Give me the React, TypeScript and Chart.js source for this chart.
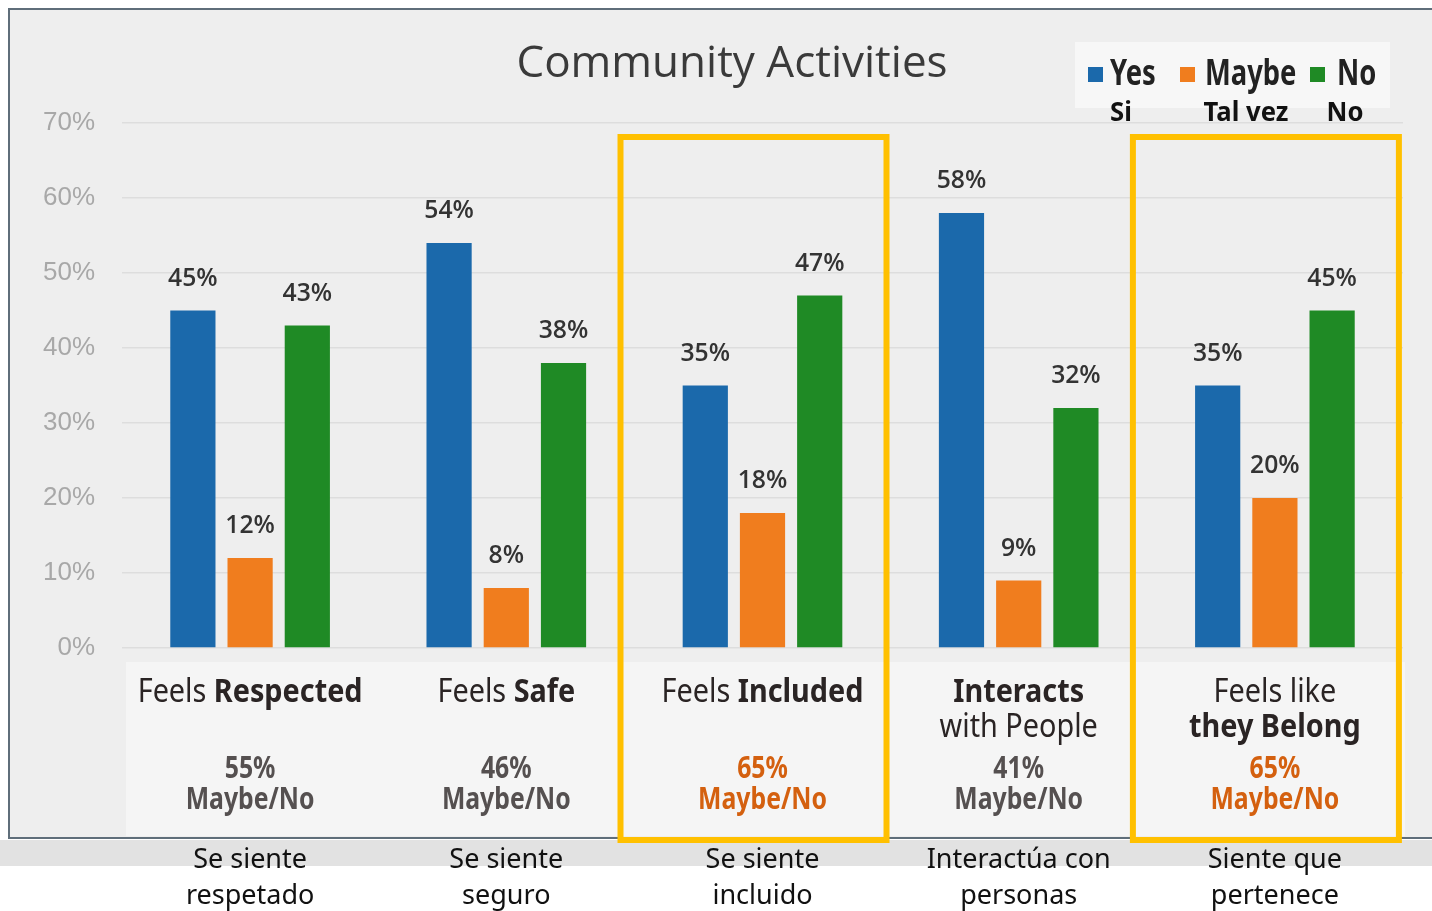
import React, { useEffect, useRef } from "react";
import { Chart, registerables } from "chart.js";
Chart.register(...registerables);

const title = "Community Activities";
const categories = ["Feels Respected", "Feels Safe", "Feels Included", "Interacts with People", "Feels like they Belong"];
const seriesNames = ["Yes", "Maybe", "No"];
const seriesNamesEs = ["Si", "Tal vez", "No"];
const yesValues = [45, 54, 35, 58, 35];
const maybeValues = [12, 8, 18, 9, 20];
const noValues = [43, 38, 47, 32, 45];
const maybeNoTotals = [55, 46, 65, 41, 65];
const highlighted = [false, false, true, false, true];
const spanishLabels = [
  ["Se siente", "respetado"],
  ["Se siente", "seguro"],
  ["Se siente", "incluido"],
  ["Interactúa con", "personas"],
  ["Siente que", "pertenece"],
];
// label lines: each line is a list of [text, bold] segments
const labelLines: [string, boolean][][][] = [
  [[["Feels ", false], ["Respected", true]]],
  [[["Feels ", false], ["Safe", true]]],
  [[["Feels ", false], ["Included", true]]],
  [[["Interacts", true]], [["with People", false]]],
  [[["Feels like", false]], [["they Belong", true]]],
];
const seriesColors = ["#1b69ab", "#f07d1e", "#1f8a25"];

const SANS = '"Noto Sans", "Open Sans", sans-serif';
const ROUND = '"Noto Sans", "Open Sans", sans-serif';

// draw horizontally condensed text; align: "left" | "center"
function drawText(ctx: any, text: string, x: number, y: number, sx: number, align: string) {
  const w = ctx.measureText(text).width * sx;
  const left = align === "center" ? x - w / 2 : x;
  ctx.save();
  ctx.textAlign = "left";
  ctx.translate(left, y);
  ctx.scale(sx, 1);
  ctx.fillText(text, 0, 0);
  ctx.restore();
  return w;
}

const decorPlugin = {
  id: "decor",
  beforeDraw(chart: any) {
    const ctx = chart.ctx;
    const W = chart.width;
    ctx.save();
    ctx.fillStyle = "#ffffff";
    ctx.fillRect(0, 0, W, chart.height);
    ctx.fillStyle = "#eeeeee";
    ctx.fillRect(8, 8, W - 8, 830);
    ctx.fillStyle = "#f5f5f5";
    ctx.fillRect(126, 662, 1279, 174);
    ctx.fillStyle = "#f7f7f7";
    ctx.fillRect(1075, 42, 315, 66);
    ctx.fillStyle = "#e2e2e2";
    ctx.fillRect(0, 840, W, 26);
    ctx.strokeStyle = "#5f6e7a";
    ctx.lineWidth = 2;
    ctx.beginPath();
    ctx.moveTo(8, 9); ctx.lineTo(W, 9);
    ctx.moveTo(9, 9); ctx.lineTo(9, 838);
    ctx.moveTo(8, 838); ctx.lineTo(W, 838);
    ctx.stroke();
    ctx.restore();
  },
  afterDatasetsDraw(chart: any) {
    const ctx = chart.ctx;
    ctx.save();
    ctx.fillStyle = "#333333";
    ctx.font = `600 26px "Open Sans", sans-serif`;
    ctx.textBaseline = "middle";
    chart.data.datasets.forEach((ds: any, di: number) => {
      const meta = chart.getDatasetMeta(di);
      meta.data.forEach((el: any, i: number) => {
        drawText(ctx, `${ds.data[i]}%`, el.x, el.y - 32, 0.95, "center");
      });
    });
    ctx.restore();
  },
  afterDraw(chart: any) {
    const ctx = chart.ctx;
    const xs = chart.scales.x;
    ctx.save();
    ctx.textBaseline = "middle";
    // title
    ctx.fillStyle = "#3a3a3a";
    ctx.font = `400 44px "Open Sans", sans-serif`;
    drawText(ctx, title, 732, 64, 1.0, "center");

    // legend
    const boxX = [1088, 1180, 1310];
    const textX = [1110, 1205, 1337];
    const esX = [1121, 1246, 1345];
    seriesNames.forEach((n, i) => {
      ctx.fillStyle = seriesColors[i];
      ctx.fillRect(boxX[i], 67, 15, 15);
      ctx.fillStyle = "#222222";
      ctx.font = `bold 36px ${SANS}`;
      drawText(ctx, n, textX[i], 75, 0.76, "left");
      ctx.fillStyle = "#111111";
      ctx.font = `bold 27px ${ROUND}`;
      drawText(ctx, seriesNamesEs[i], esX[i], 113, 0.95, "center");
    });

    // category labels
    const LSX = 0.9;
    categories.forEach((_, i) => {
      const cx = xs.getPixelForValue(i);
      const lines = labelLines[i];
      lines.forEach((segs, li) => {
        let total = 0;
        segs.forEach(([t, b]) => {
          ctx.font = `${b ? "bold" : "400"} 32px ${SANS}`;
          total += ctx.measureText(t).width * LSX;
        });
        let x = cx - total / 2;
        ctx.fillStyle = "#2a2424";
        segs.forEach(([t, b]) => {
          ctx.font = `${b ? "bold" : "400"} 32px ${SANS}`;
          x += drawText(ctx, t, x, 693 + li * 35, LSX, "left");
        });
      });
      ctx.fillStyle = highlighted[i] ? "#d4600f" : "#555050";
      ctx.font = `bold 31px ${SANS}`;
      drawText(ctx, `${maybeNoTotals[i]}%`, cx, 769, 0.8, "center");
      drawText(ctx, "Maybe/No", cx, 800, 0.8, "center");
      ctx.fillStyle = "#111111";
      ctx.font = `400 27px ${ROUND}`;
      drawText(ctx, spanishLabels[i][0], cx, 860, 1, "center");
      drawText(ctx, spanishLabels[i][1], cx, 896, 1, "center");
      if (highlighted[i]) {
        ctx.strokeStyle = "#ffc000";
        ctx.lineWidth = 6;
        ctx.strokeRect(cx - 142, 137, 266, 703);
      }
    });
    ctx.restore();
  },
};

export default function App() {
  const ref = useRef<HTMLCanvasElement>(null);
  useEffect(() => {
    document.body.style.margin = "0";
    const chart = new Chart(ref.current as HTMLCanvasElement, {
      type: "bar",
      data: {
        labels: categories,
        datasets: [
          { label: seriesNames[0], data: yesValues, backgroundColor: seriesColors[0] },
          { label: seriesNames[1], data: maybeValues, backgroundColor: seriesColors[1] },
          { label: seriesNames[2], data: noValues, backgroundColor: seriesColors[2] },
        ],
      },
      options: {
        responsive: false,
        animation: false,
        devicePixelRatio: 1,
        layout: { padding: { top: 123, bottom: 263, left: 0, right: 29 } },
        datasets: { bar: { categoryPercentage: 0.67, barPercentage: 0.79 } },
        plugins: {
          legend: { display: false },
          title: { display: false },
          tooltip: { enabled: false },
        },
        scales: {
          x: { display: false },
          y: {
            min: 0,
            max: 70,
            ticks: {
              stepSize: 10,
              callback: (v: any) => `${v}%`,
              color: "#a8a8a8",
              font: { size: 26, family: '"Liberation Sans", sans-serif' },
              padding: 27,
            },
            grid: { color: "#dddddd", drawTicks: false, lineWidth: 1.5 },
            border: { display: false },
            afterFit: (s: any) => {
              s.width = 122;
            },
          },
        },
      },
      plugins: [decorPlugin],
    } as any);
    return () => chart.destroy();
  }, []);
  return (
    <div style={{ width: 1432, height: 911 }}>
      <canvas ref={ref} width={1432} height={911} />
    </div>
  );
}
